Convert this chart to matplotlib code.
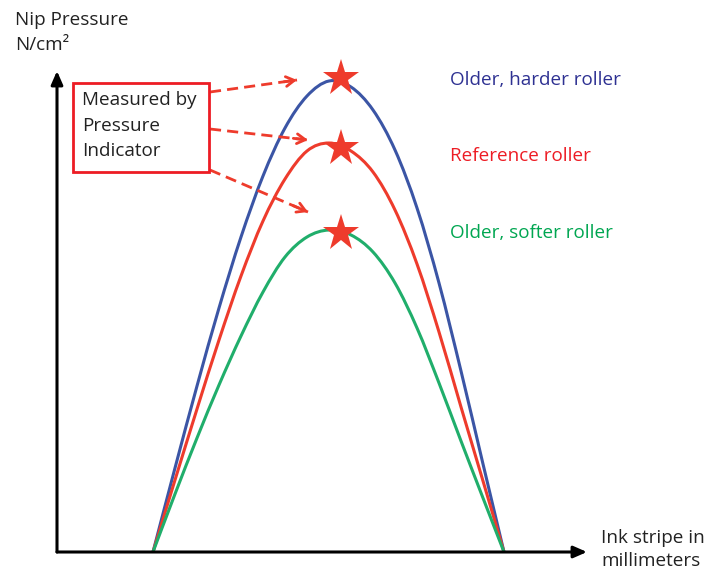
import matplotlib
matplotlib.use("Agg")
import matplotlib.pyplot as plt
import numpy as np
from matplotlib.patches import Rectangle, PathPatch
from matplotlib.path import Path

# ---- data (arbitrary units: x = ink stripe, y = nip pressure) ----
stripe_x = [9.6, 11.8, 14.0, 16.2, 18.4, 20.6, 22.8, 25.0, 27.2,
            29.4, 31.6, 33.8, 36.0, 38.2, 40.4, 42.6, 44.7]

harder_y = [0.0, 8.4, 16.6, 24.4, 31.5, 37.6, 42.4, 45.6, 47.1,
            46.5, 44.2, 40.2, 34.4, 26.9, 18.1, 8.8, 0.0]
reference_y = [0.0, 7.2, 14.3, 21.2, 27.6, 33.1, 37.3, 40.1, 40.9,
               40.1, 38.0, 34.2, 28.8, 22.0, 14.5, 7.1, 0.0]
softer_y = [0.0, 5.8, 11.4, 16.7, 21.6, 26.0, 29.5, 31.5, 32.2,
            31.7, 30.0, 26.9, 22.4, 16.9, 11.1, 5.4, 0.0]

measured_x = [28.4, 28.4, 28.4]
measured_y = [47.4, 40.4, 31.9]

series_labels = ["Older, harder roller", "Reference roller", "Older, softer roller"]
line_colors = ["#3B55A5", "#EE3B2C", "#20AE6B"]
text_colors = ["#2E3192", "#ED1C24", "#00A651"]

FONT = ["Open Sans", "DejaVu Sans"]
FS = 13.6


def smooth_path(xs, ys):
    """Cubic Bezier path passing through the given points (Catmull-Rom tangents)."""
    p = np.column_stack([xs, ys]).astype(float)
    n = len(p)
    verts = [p[0]]
    codes = [Path.MOVETO]
    for i in range(n - 1):
        p0 = p[i - 1] if i > 0 else p[i]
        p1 = p[i]
        p2 = p[i + 1]
        p3 = p[i + 2] if i + 2 < n else p[i + 1]
        c1 = p1 + (p2 - p0) / 6.0
        c2 = p2 - (p3 - p1) / 6.0
        verts += [c1, c2, p2]
        codes += [Path.CURVE4] * 3
    return Path(verts, codes)


fig = plt.figure(figsize=(7.17, 5.72), dpi=100)
ax = fig.add_axes([0, 0, 1, 1])
ax.set_xlim(-5.7, 66.0)
ax.set_ylim(-2.0, 55.2)
ax.axis("off")

# axes with arrows
ax.annotate("", xy=(53.0, 0), xytext=(0, 0),
            arrowprops=dict(arrowstyle="-|>,head_length=0.8,head_width=0.35", color="black", lw=2.2,
                            shrinkA=0, shrinkB=0))
ax.annotate("", xy=(0, 48.1), xytext=(0, 0),
            arrowprops=dict(arrowstyle="-|>,head_length=0.8,head_width=0.35", color="black", lw=2.2,
                            shrinkA=0, shrinkB=0))

# curves
for ys, c in zip([harder_y, reference_y, softer_y], line_colors):
    ax.add_patch(PathPatch(smooth_path(stripe_x, ys), fill=False, edgecolor=c, lw=2.2, capstyle="butt"))

# stars
ax.plot(measured_x, measured_y, linestyle="none", marker="*", markersize=28,
        color="#EE3B2C", markeredgewidth=0, zorder=5)

# series labels
label_y = [47.2, 39.6, 31.9]
for lab, yy, c in zip(series_labels, label_y, text_colors):
    ax.text(39.3, yy, lab, color=c, fontsize=FS, family=FONT, va="center", ha="left")

# box
ax.add_patch(Rectangle((1.6, 38.0), 13.6, 8.9, fill=False, edgecolor="#ED1C24", lw=2.0, zorder=4))
for t, yy in zip(["Measured by", "Pressure", "Indicator"], [45.2, 42.6, 40.1]):
    ax.text(2.5, yy, t, fontsize=FS, family=FONT, color="#222222", va="center", ha="left")

# dashed arrows
arrows = [((15.3, 46.0), (24.0, 47.2)), ((15.3, 42.3), (25.1, 41.2)), ((15.3, 38.2), (25.1, 34.0))]
for (x0, y0), (x1, y1) in arrows:
    ax.plot([x0, x1], [y0, y1], color="#EE3B2C", lw=2.0, linestyle=(0, (4, 2.2)))
    ax.annotate("", xy=(x1, y1), xytext=(x0 + (x1 - x0) * 0.85, y0 + (y1 - y0) * 0.85),
                arrowprops=dict(arrowstyle="->,head_length=0.6,head_width=0.35", color="#EE3B2C", lw=2.0,
                                shrinkA=0, shrinkB=0))

# axis labels
ax.text(-4.2, 53.2, "Nip Pressure", fontsize=FS, family=FONT, color="#222222", va="center", ha="left")
ax.text(-4.2, 50.7, "N/cm²", fontsize=FS, family=FONT, color="#222222", va="center", ha="left")
ax.text(54.4, 1.4, "Ink stripe in", fontsize=FS, family=FONT, color="#222222", va="center", ha="left")
ax.text(54.4, -0.9, "millimeters", fontsize=FS, family=FONT, color="#222222", va="center", ha="left")

fig.savefig("out.png", dpi=100)
